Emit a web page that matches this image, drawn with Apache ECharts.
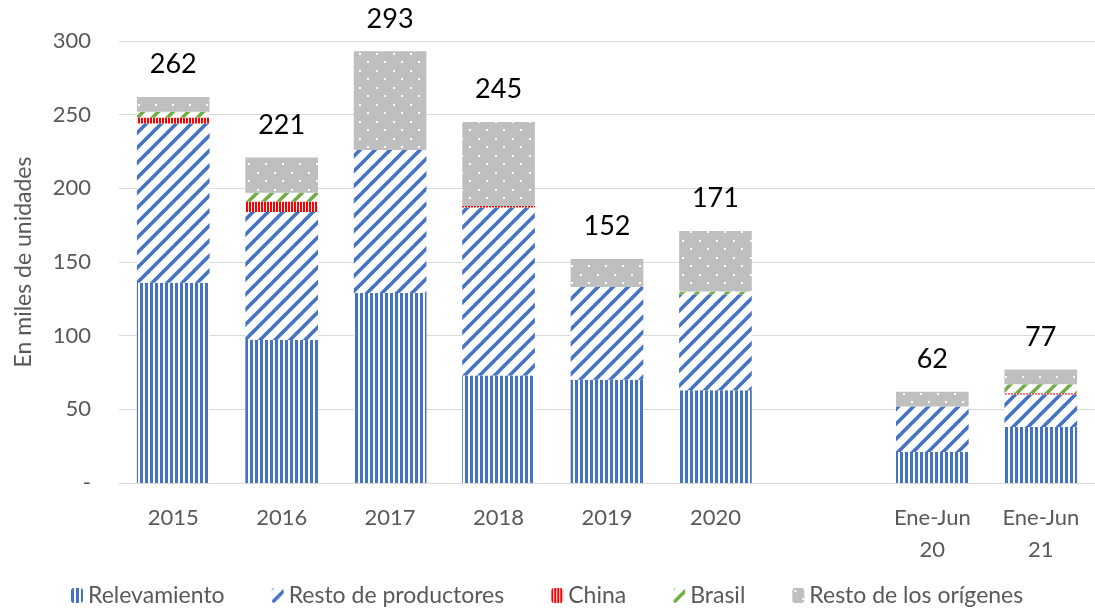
<!DOCTYPE html>
<html>
<head>
<meta charset="utf-8">
<script src="https://cdn.jsdelivr.net/npm/echarts@6/dist/echarts.min.js"></script>
<style>
  html, body { margin: 0; padding: 0; background: #fff; }
  #chart { width: 1095px; height: 612px; }
</style>
</head>
<body>
<div id="chart"></div>
<script>
const categories = ['2015', '2016', '2017', '2018', '2019', '2020', '', 'Ene-Jun\n20', 'Ene-Jun\n21'];
const relevamiento = [136, 97, 129, 73, 70, 63, null, 21, 38];
const restoProductores = [108, 87, 97, 114, 63, 65, null, 31, 22];
const china = [4, 7, 0, 1, 0, 0, null, 0, 1];
const brasil = [4, 6, 0, 0, 0, 2, null, 0, 6];
const restoOrigenes = [10, 24, 67, 57, 19, 41, null, 10, 10];
const totals = [262, 221, 293, 245, 152, 171, null, 62, 77];
const yTicks = [0, 50, 100, 150, 200, 250, 300];

// pattern tiles drawn on small canvases
function tile(w, h, draw) {
  const c = document.createElement('canvas');
  c.width = w; c.height = h;
  const ctx = c.getContext('2d');
  ctx.fillStyle = '#fff';
  ctx.fillRect(0, 0, w, h);
  draw(ctx);
  return { image: c, repeat: 'repeat' };
}

function vertical(color, bar, gap) {
  return tile(bar + gap, 4, ctx => {
    ctx.fillStyle = color;
    ctx.fillRect(0, 0, bar, 4);
  });
}

function diagonal(color, size, width) {
  return tile(size, size, ctx => {
    ctx.strokeStyle = color;
    ctx.lineWidth = width;
    [[0, size, size, 0], [-size / 2, size / 2, size / 2, -size / 2], [size / 2, size * 1.5, size * 1.5, size / 2]]
      .forEach(([x1, y1, x2, y2]) => {
        ctx.beginPath();
        ctx.moveTo(x1, y1);
        ctx.lineTo(x2, y2);
        ctx.stroke();
      });
  });
}

const dots = tile(17, 17, ctx => {
  ctx.fillStyle = '#bfbfbf';
  ctx.fillRect(0, 0, 17, 17);
  ctx.fillStyle = '#fff';
  ctx.fillRect(2, 2, 2, 2);
  ctx.fillRect(10, 10, 2, 2);
});

const patterns = {
  relevamiento: vertical('#4472c4', 3, 2),
  resto: diagonal('#4472c4', 15, 3.6),
  china: vertical('#ff0000', 2, 1),
  brasil: diagonal('#70ad47', 15, 3.6),
  origenes: dots
};

const chart = echarts.init(document.getElementById('chart'));

function barSeries(name, data, color) {
  return {
    name,
    type: 'bar',
    stack: 'total',
    data,
    barWidth: '67%',
    itemStyle: { color },
    emphasis: { disabled: true }
  };
}

const topSeries = barSeries('Resto de los orígenes', restoOrigenes, patterns.origenes);
topSeries.label = {
  show: true,
  position: 'top',
  distance: 19,
  color: '#000',
  fontSize: 27,
  fontFamily: 'Lato',
  formatter: p => totals[p.dataIndex] == null ? '' : String(totals[p.dataIndex])
};

chart.setOption({
  animation: false,
  textStyle: { fontFamily: 'Lato' },
  grid: { left: 119, right: -7, top: 41, bottom: 129 },
  legend: {
    bottom: 0,
    left: 66,
    itemWidth: 12,
    itemHeight: 15,
    itemGap: 47,
    textStyle: { color: '#595959', fontSize: 23, fontFamily: 'Lato' },
    data: ['Relevamiento', 'Resto de productores', 'China', 'Brasil', 'Resto de los orígenes']
  },
  xAxis: {
    type: 'category',
    data: categories,
    axisTick: { show: false },
    axisLine: { lineStyle: { color: '#d9d9d9' } },
    axisLabel: { color: '#595959', fontSize: 22, margin: 19, lineHeight: 32 }
  },
  yAxis: {
    type: 'value',
    min: yTicks[0],
    max: yTicks[yTicks.length - 1],
    interval: 50,
    name: 'En miles de unidades',
    nameLocation: 'middle',
    nameRotate: 90,
    nameGap: 84,
    nameTextStyle: { color: '#595959', fontSize: 23 },
    axisLine: { show: false },
    axisTick: { show: false },
    axisLabel: {
      color: '#595959',
      fontSize: 22,
      margin: 28,
      formatter: v => v === 0 ? '-' : String(v)
    },
    splitLine: { lineStyle: { color: '#d9d9d9' } }
  },
  series: [
    barSeries('Relevamiento', relevamiento, patterns.relevamiento),
    barSeries('Resto de productores', restoProductores, patterns.resto),
    barSeries('China', china, patterns.china),
    barSeries('Brasil', brasil, patterns.brasil),
    topSeries
  ]
});
</script>
</body>
</html>
